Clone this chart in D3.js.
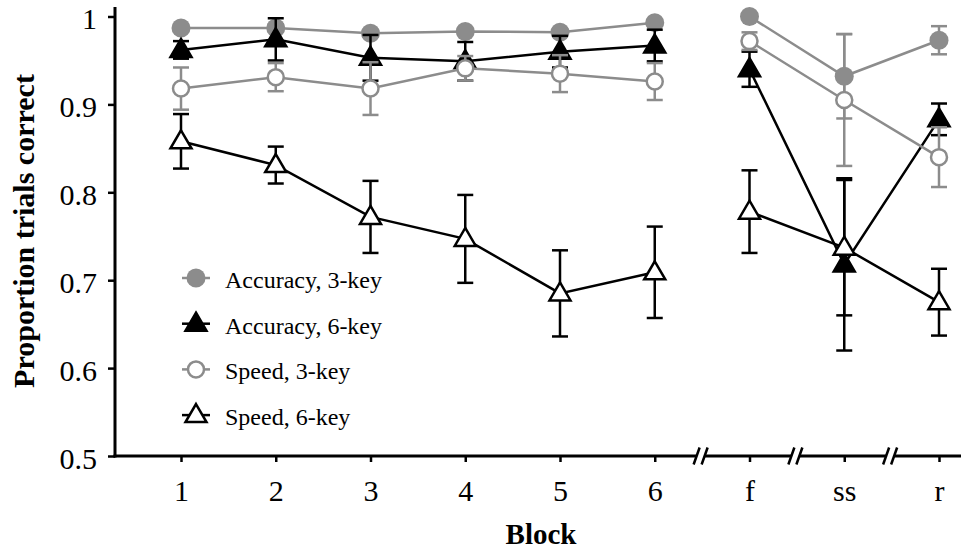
<!DOCTYPE html>
<html>
<head>
<meta charset="utf-8">
<script src="https://cdn.jsdelivr.net/npm/d3@7"></script>
<style>
	body { margin: 0; background: #fff; }
	text { font-family: "Liberation Serif", "Times New Roman", serif; fill: #000; }
</style>
</head>
<body>
<svg id="chart" width="961" height="550"></svg>
<script>
	var categories = ['1', '2', '3', '4', '5', '6', 'f', 'ss', 'r'];
	var segments = [[0, 5], [6, 8]];       // lines are broken between block 6 and f
	var yTicks = [0.5, 0.6, 0.7, 0.8, 0.9, 1];

	var acc3 = [0.987, 0.987, 0.981, 0.983, 0.982, 0.993, 1.000, 0.932, 0.973];
	var acc3Err = [0.004, 0.004, 0.004, 0.004, 0.004, 0.003, 0.002, 0.048, 0.016];
	var acc6 = [0.962, 0.974, 0.953, 0.949, 0.960, 0.967, 0.940, 0.718, 0.883];
	var acc6Err = [0.010, 0.024, 0.026, 0.022, 0.018, 0.018, 0.020, 0.098, 0.018];
	var spd3 = [0.918, 0.931, 0.918, 0.941, 0.935, 0.926, 0.972, 0.905, 0.840];
	var spd3Err = [0.024, 0.016, 0.030, 0.014, 0.021, 0.021, 0.010, 0.075, 0.034];
	var spd6 = [0.858, 0.831, 0.772, 0.747, 0.685, 0.709, 0.778, 0.737, 0.675];
	var spd6Err = [0.031, 0.021, 0.041, 0.050, 0.049, 0.052, 0.047, 0.077, 0.038];

	var grey = '#8c8c8c';
	var series = [
		{name: 'Accuracy, 3-key', values: acc3, err: acc3Err, color: grey, shape: 'circle', filled: true},
		{name: 'Accuracy, 6-key', values: acc6, err: acc6Err, color: '#000', shape: 'triangle', filled: true},
		{name: 'Speed, 3-key', values: spd3, err: spd3Err, color: grey, shape: 'circle', filled: false},
		{name: 'Speed, 6-key', values: spd6, err: spd6Err, color: '#000', shape: 'triangle', filled: false}
	];

	var svg = d3.select('#chart');
	var left = 115, bottom = 456;

	var x = d3.scaleLinear().domain([0, categories.length - 1]).range([181, 939]);
	var y = d3.scaleLinear().domain([0.5, 1]).range([bottom, 16.5]);

	// y axis
	var yAxis = d3.axisLeft(y).tickValues(yTicks).tickSize(7)
		.tickFormat(function (d) { return d === 1 ? '1' : d3.format('.1f')(d); });
	var yg = svg.append('g').attr('transform', 'translate(' + left + ',0)').call(yAxis);
	yg.select('.domain').remove();
	yg.selectAll('.tick line').attr('stroke', '#000').attr('stroke-width', 2.5);
	yg.selectAll('.tick text').attr('x', -18).attr('dy', '0.4em')
		.style('font-size', '30px').style('font-family', '"Liberation Serif", serif');
	svg.append('line').attr('x1', left).attr('x2', left).attr('y1', 7).attr('y2', bottom + 1.5)
		.attr('stroke', '#000').attr('stroke-width', 3);

	// x axis with breaks between the groups
	var xAxis = d3.axisBottom(x).tickValues(d3.range(categories.length)).tickSize(6)
		.tickFormat(function (i) { return categories[i]; });
	var xg = svg.append('g').attr('transform', 'translate(0,' + bottom + ')').call(xAxis);
	xg.select('.domain').remove();
	xg.selectAll('.tick line').attr('stroke', '#000').attr('stroke-width', 2.5);
	xg.selectAll('.tick text').attr('y', 45).attr('dy', 0)
		.style('font-size', '30px').style('font-family', '"Liberation Serif", serif');

	var breaks = [5.5, 6.5, 7.5].map(function (b) { return x(b) - 1.5; });
	var gap = 4;
	var stops = [left - 1.5].concat(breaks.reduce(function (a, b) { return a.concat([b - gap, b + gap]); }, [])).concat([961]);
	for (var s = 0; s < stops.length; s += 2)
	{
		svg.append('line').attr('x1', stops[s]).attr('x2', stops[s + 1]).attr('y1', bottom).attr('y2', bottom)
			.attr('stroke', '#000').attr('stroke-width', 3);
	}
	breaks.forEach(function (b)
	{
		[-gap, gap].forEach(function (o)
		{
			svg.append('line').attr('x1', b + o - 3).attr('x2', b + o + 3)
				.attr('y1', bottom + 8.5).attr('y2', bottom - 8.5)
				.attr('stroke', '#000').attr('stroke-width', 2.5);
		});
	});

	// axis titles
	svg.append('text').attr('transform', 'translate(34,231) rotate(-90)')
		.attr('text-anchor', 'middle').style('font-size', '30px').style('font-weight', 'bold')
		.text('Proportion trials correct');
	svg.append('text').attr('x', 541).attr('y', 544)
		.attr('text-anchor', 'middle').style('font-size', '29px').style('font-weight', 'bold')
		.text('Block');

	function drawMarker(g, sr, cx, cy)
	{
		var fill = sr.filled ? sr.color : '#fff';
		if (sr.shape === 'circle')
		{
			g.append('circle').attr('cx', cx).attr('cy', cy).attr('r', sr.filled ? 9.5 : 8)
				.attr('fill', fill).attr('stroke', sr.color).attr('stroke-width', sr.filled ? 0 : 2.5);
		}
		else
		{
			var pts = [[cx, cy - 11], [cx + 10.5, cy + 7], [cx - 10.5, cy + 7]];
			g.append('path').attr('d', 'M' + pts.join('L') + 'Z')
				.attr('fill', fill).attr('stroke', sr.color)
				.attr('stroke-width', 2.5).attr('stroke-linejoin', 'miter');
		}
	}

	var line = d3.line()
		.x(function (d) { return x(d.i); })
		.y(function (d) { return y(d.v); });

	series.forEach(function (sr)
	{
		var g = svg.append('g');
		var pts = sr.values.map(function (v, i) { return {i: i, v: v, e: sr.err[i]}; });

		// error bars
		pts.forEach(function (p)
		{
			var cx = x(p.i), y0 = y(p.v - p.e), y1 = y(p.v + p.e);
			g.append('line').attr('x1', cx).attr('x2', cx).attr('y1', y0).attr('y2', y1)
				.attr('stroke', sr.color).attr('stroke-width', 2.5);
			[y0, y1].forEach(function (yy)
			{
				g.append('line').attr('x1', cx - 8).attr('x2', cx + 8).attr('y1', yy).attr('y2', yy)
					.attr('stroke', sr.color).attr('stroke-width', 2.5);
			});
		});

		segments.forEach(function (seg)
		{
			g.append('path').datum(pts.slice(seg[0], seg[1] + 1)).attr('d', line)
				.attr('fill', 'none').attr('stroke', sr.color).attr('stroke-width', 2.5);
		});

		pts.forEach(function (p) { drawMarker(g, sr, x(p.i), y(p.v)); });
	});

	// legend
	var legend = svg.append('g');
	series.forEach(function (sr, k)
	{
		var ly = 278 + k * 45.7;
		legend.append('line').attr('x1', 182).attr('x2', 210).attr('y1', ly).attr('y2', ly)
			.attr('stroke', sr.color).attr('stroke-width', 2.5);
		drawMarker(legend, sr, 196, ly);
		legend.append('text').attr('x', 225).attr('y', ly).attr('dy', '0.42em')
			.style('font-size', '24px').text(sr.name);
	});
</script>
</body>
</html>
